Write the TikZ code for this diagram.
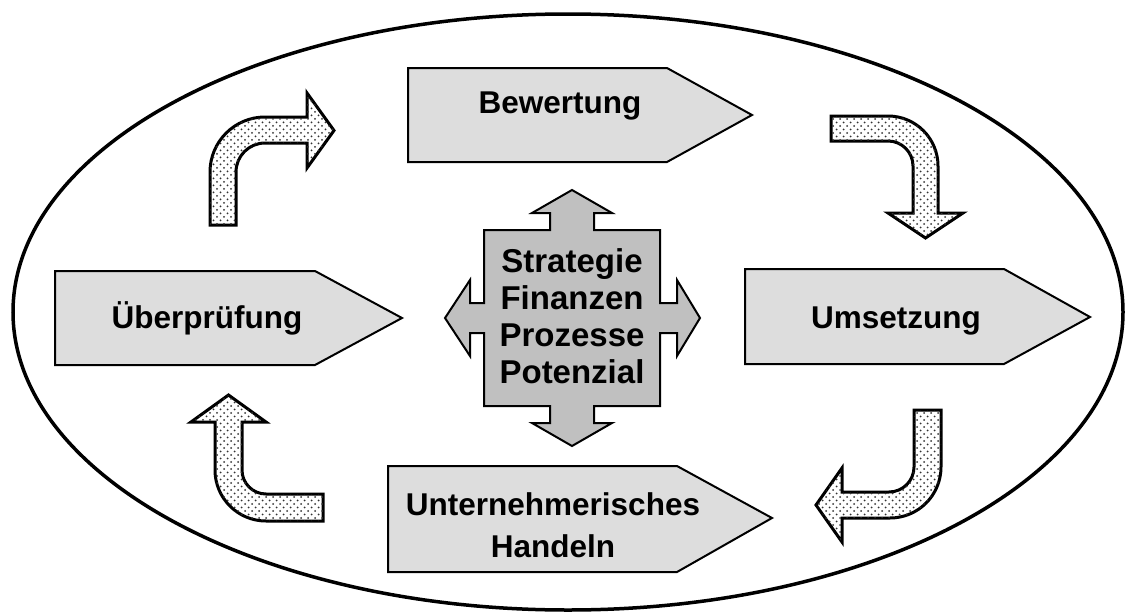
\documentclass[tikz,border=0pt]{standalone}
\usepackage{fontspec}
\setmainfont{Liberation Sans}
\usetikzlibrary{patterns}
\pgfdeclarepatternformonly{mydots}{\pgfqpoint{-1pt}{-1pt}}{\pgfqpoint{8pt}{8pt}}{\pgfqpoint{7pt}{7pt}}{%
  \pgfpathcircle{\pgfqpoint{0pt}{0pt}}{1pt}%
  \pgfpathcircle{\pgfqpoint{3.5pt}{3.5pt}}{1pt}%
  \pgfusepath{fill}}
\definecolor{pentafill}{HTML}{DDDDDD}
\definecolor{crossfill}{HTML}{C0C0C0}
\definecolor{dotcol}{HTML}{333333}
\tikzset{
  penta/.style={draw=black, line width=2pt, fill=pentafill, line join=miter},
  crossbox/.style={draw=black, line width=2pt, fill=crossfill, line join=miter},
  curvarrow/.style={draw=black, line width=3pt, line join=miter, fill=white,
     postaction={pattern=mydots, pattern color=dotcol}},
  lbl/.style={font=\bfseries\fontsize{31.5}{42}\selectfont, inner sep=0pt, align=center},
  clbl/.style={font=\bfseries\fontsize{33}{37}\selectfont, inner sep=0pt, align=center},
}
\begin{document}
\begin{tikzpicture}[x=1pt, y=-1pt]
\useasboundingbox (0,0) rectangle (1133,616);
% outer ellipse
\draw[line width=3.5pt] (568,312) ellipse (555 and 298);

% pentagons
\draw[penta] (408,68) -- (667,68) -- (752,115) -- (667,162) -- (408,162) -- cycle;
\draw[penta] (55,271) -- (315,271) -- (402,318) -- (315,365) -- (55,365) -- cycle;
\draw[penta] (745,269) -- (1004,269) -- (1090,317) -- (1004,364) -- (745,364) -- cycle;
\draw[penta] (388,466) -- (677,466) -- (772,518) -- (677,572) -- (388,572) -- cycle;

\node[lbl, anchor=base] (bew) at (560,113) {Bewertung};
\node[lbl, anchor=base] (ueb) at (207,328) {Überprüfung};
\node[lbl, anchor=base] (ums) at (896,328) {Umsetzung};
\node[lbl, anchor=north] (unt) at (553,492) {Unternehmerisches\\Handeln};

% central cross
\draw[crossbox] (484,230) -- (550,230) -- (550,213) -- (532,213) -- (572,190) -- (612,213) -- (594,213) -- (594,230)
  -- (660,230) -- (660,303) -- (677,303) -- (677,280) -- (700,318) -- (677,356) -- (677,333) -- (660,333)
  -- (660,406) -- (594,406) -- (594,423) -- (612,423) -- (572,446) -- (532,423) -- (550,423) -- (550,406)
  -- (484,406) -- (484,333) -- (470,333) -- (470,356) -- (445,318) -- (470,280) -- (470,303) -- (484,303) -- cycle;
\node[clbl, anchor=north] (ctr) at (572,248) {Strategie\\Finanzen\\Prozesse\\Potenzial};

% curved arrows
\draw[curvarrow] (210,225) -- (210,172) arc (180:270:55) -- (307,117) -- (307,93) -- (334,130.5)
  -- (307,168) -- (307,143) -- (265,143) arc (270:180:29) -- (236,225) -- cycle;
\draw[curvarrow] (831,116) -- (888,116) arc (270:360:50) -- (938,213) -- (963,213) -- (925.5,238)
  -- (888,213) -- (913,213) -- (913,166) arc (0:-90:25) -- (831,141) -- cycle;
\draw[curvarrow] (914,410) -- (941,410) -- (941,467) arc (0:90:51) -- (842,518) -- (842,542) -- (816,505)
  -- (842,468) -- (842,492) -- (889,492) arc (90:0:25) -- cycle;
\draw[curvarrow] (323,494) -- (266,494) arc (90:180:24) -- (242,422) -- (266,422) -- (228.5,395)
  -- (191,422) -- (215,422) -- (215,470) arc (180:90:51) -- (323,521) -- cycle;
\end{tikzpicture}
\end{document}
